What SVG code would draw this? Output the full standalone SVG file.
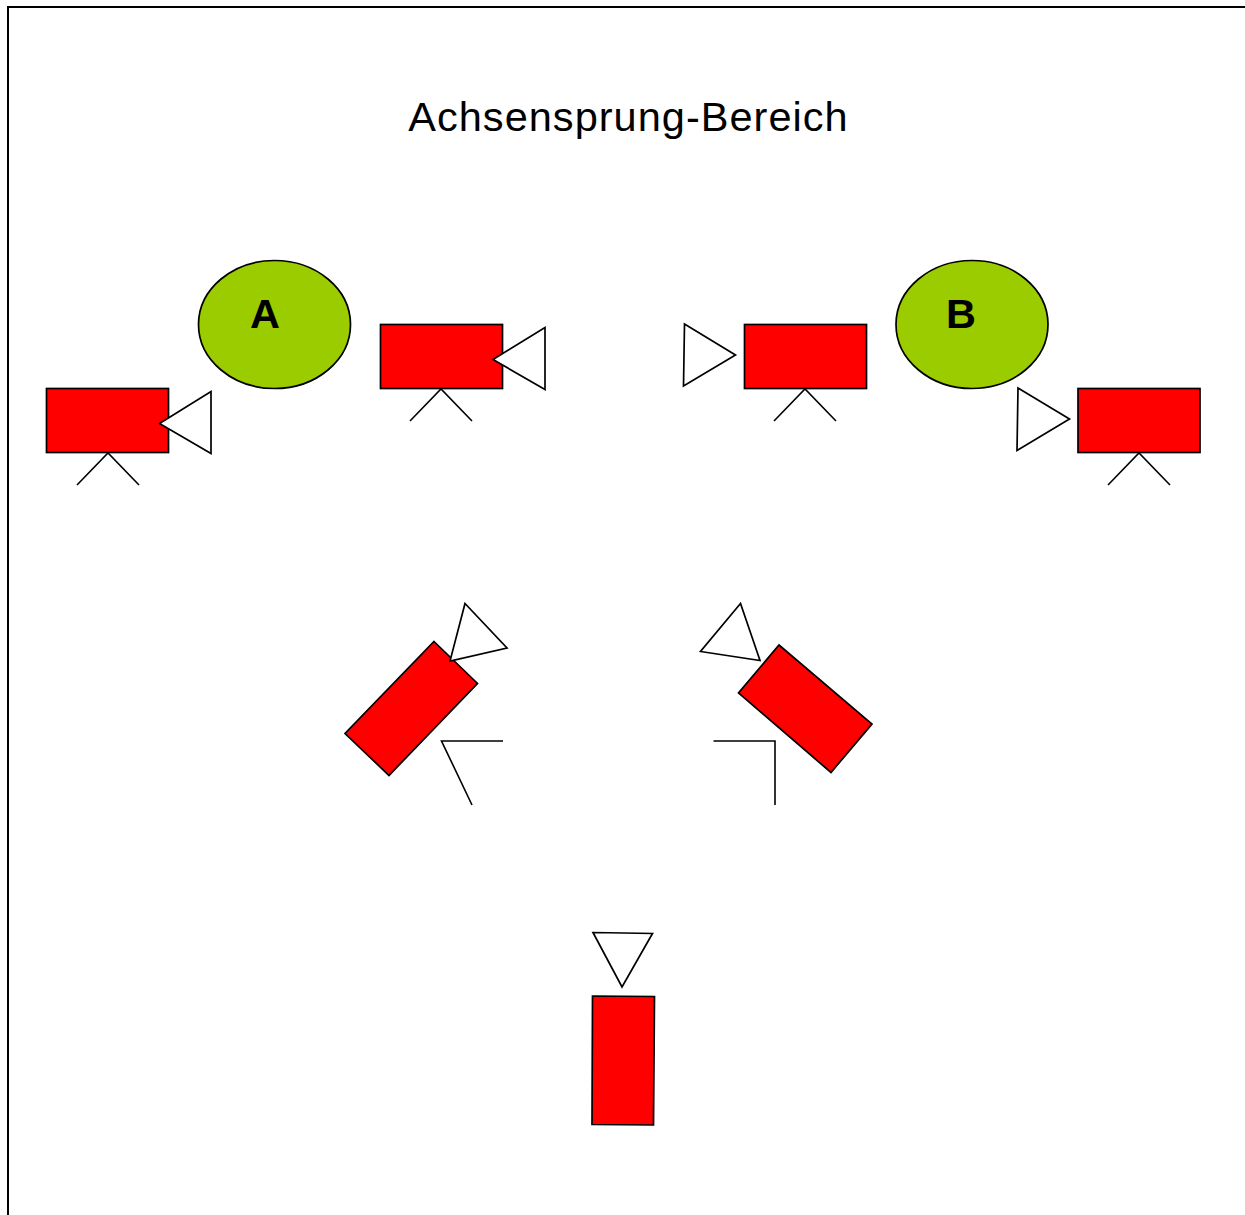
<svg xmlns="http://www.w3.org/2000/svg" width="1245" height="1215" viewBox="0 0 1245 1215">
<style>
.b{fill:#ff0000;stroke:#000;stroke-width:1.7}
.t{fill:#fff;stroke:#000;stroke-width:1.7}
.l{fill:none;stroke:#000;stroke-width:1.6}
.g{fill:#9acc00;stroke:#000;stroke-width:1.7}
.x{font-family:"Liberation Sans",Arial,sans-serif;fill:#000}
</style>
<rect width="1245" height="1215" fill="#fff"/>
<path d="M8 1215V7H1245" fill="none" stroke="#000" stroke-width="2"/>
<text class="x" x="628.500" y="131" font-size="41.500" letter-spacing="1.030" text-anchor="middle" id="title">Achsensprung-Bereich</text>
<g id="person-a"><ellipse class="g" cx="274.500" cy="324.500" rx="76" ry="64"/><text class="x" x="265" y="328" font-size="41.500" font-weight="bold" text-anchor="middle">A</text></g>
<g id="person-b"><ellipse class="g" cx="972" cy="324.500" rx="76" ry="64"/><text class="x" x="961" y="328" font-size="41.500" font-weight="bold" text-anchor="middle">B</text></g>
<g id="cam1"><rect class="b" x="46.500" y="388.500" width="122" height="64"/><polygon class="t" points="159.500,423.500 211,391.500 211,453.500"/><path class="l" d="M77 485L108 453L139 485"/></g>
<g id="cam2"><rect class="b" x="380.500" y="324.500" width="122" height="64"/><polygon class="t" points="493,359.500 545,327.500 545,389.500"/><path class="l" d="M410 421L441 389L472 421"/></g>
<g id="cam3"><rect class="b" x="744.500" y="324.500" width="122" height="64"/><polygon class="t" points="735.500,355 684.500,324 683.500,386"/><path class="l" d="M774 421L805 389L836 421"/></g>
<g id="cam4"><rect class="b" x="1078" y="388.500" width="122" height="64"/><polygon class="t" points="1069.500,419 1018,388 1017,450.500"/><path class="l" d="M1108 485L1139 453L1170 485"/></g>
<g id="cam5"><polygon class="b" points="434,641.500 477.500,683.500 389,775.500 345,733.500"/><polygon class="t" points="465,603.500 507,648 450,661"/><path class="l" d="M503 741H441.500L472 805"/></g>
<g id="cam6"><polygon class="b" points="779,645 872,724 831,772.500 738.500,693"/><polygon class="t" points="740.500,603.500 700.500,651.500 760,660.500"/><path class="l" d="M713.500 741H775V805"/></g>
<g id="cam7"><polygon class="b" points="592.500,996 654.500,996.500 653.500,1125 592,1124.500"/><polygon class="t" points="593,932.500 652.500,933.500 622,987"/></g>
</svg>
